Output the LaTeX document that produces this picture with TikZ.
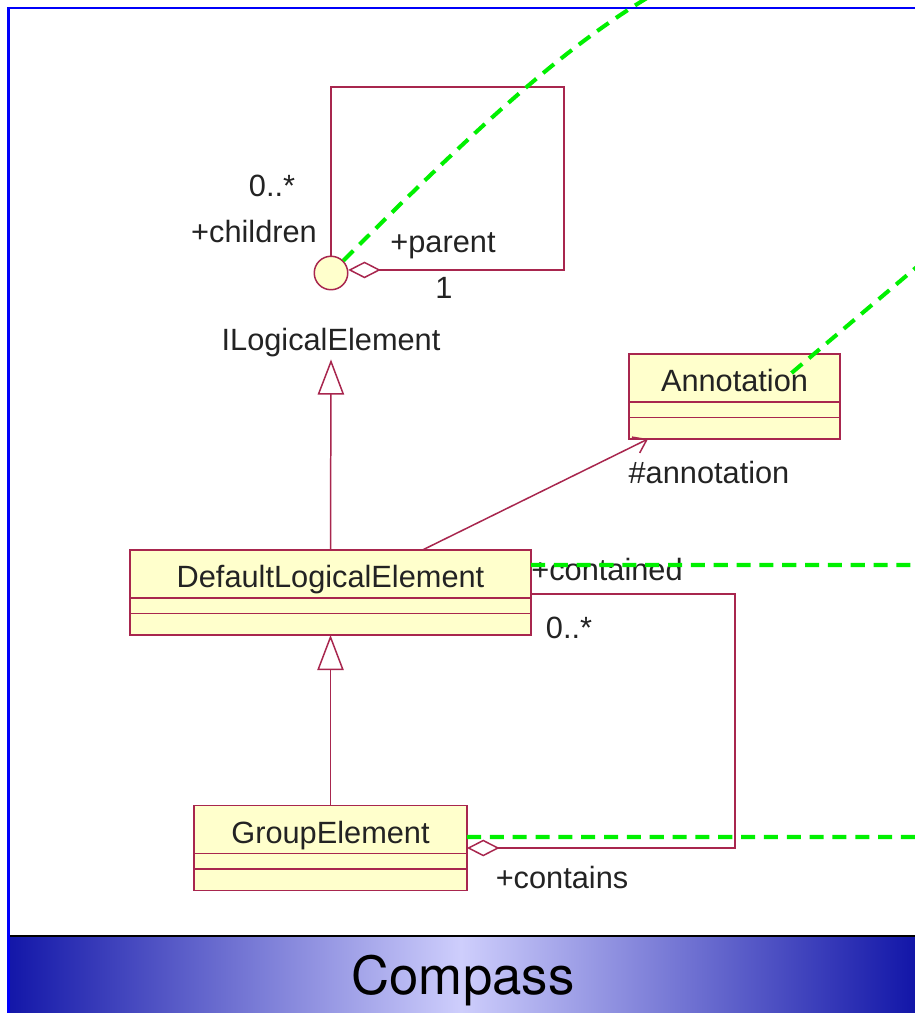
\documentclass[tikz,border=0pt]{standalone}
\usepackage{fontspec}
\usepackage{tikz}
\usetikzlibrary{arrows.meta,positioning}
\newfontfamily\umlfont{Liberation Sans}
\newfontfamily\titlefont{TeX Gyre Heros}
\definecolor{umlR}{RGB}{168,38,78}
\definecolor{umlY}{RGB}{255,255,204}
\definecolor{umlT}{RGB}{35,35,35}
\definecolor{hiG}{RGB}{0,240,0}
\definecolor{frameB}{RGB}{0,0,250}
\definecolor{barD}{RGB}{18,22,168}
\definecolor{barL}{RGB}{206,206,252}

\begin{document}
\begin{tikzpicture}[x=0.02cm,y=-0.02cm,
  cls/.style={draw=umlR,fill=umlY,line width=0.85pt,inner sep=0pt,outer sep=0pt,
    minimum width=#1,minimum height=0.96cm,text height=15.5pt,text depth=0pt,
    text=umlT,font=\umlfont\fontsize{17.5}{20}\selectfont},
  attr/.style={cls=#1,minimum height=0.31cm,text height=0pt},
  ops/.style={cls=#1,minimum height=0.43cm,text height=0pt},
  iface/.style={circle,draw=umlR,fill=umlY,line width=0.85pt,minimum size=0.67cm,inner sep=0pt},
  lbl/.style={text=umlT,inner sep=1pt,font=\umlfont\fontsize{17.5}{20}\selectfont},
  assoc/.style={draw=umlR,line width=0.85pt},
  gen/.style={assoc,-{Triangle[fill=white,length=20pt,width=15pt]}},
  nav/.style={assoc,-{Straight Barb[length=7pt,width=10pt]}},
  aggr/.style={assoc,{Diamond[fill=white,length=18.5pt,width=9.5pt]}-},
  hilite/.style={draw=hiG,line width=2.3pt,dash pattern=on 8pt off 5pt}]
\path[use as bounding box,fill=white] (0,0) rectangle (915,1013);
\clip (0,0) rectangle (915,1013);

% classes
\node[cls=4.22cm] (ann) at (734.5,378) {Annotation};
\node[attr=4.22cm,below=0pt of ann] (annA) {};
\node[ops=4.22cm,below=0pt of annA] (annO) {};
\node[cls=8.02cm] (dle) at (330.5,574) {DefaultLogicalElement};
\node[attr=8.02cm,below=0pt of dle] (dleA) {};
\node[ops=8.02cm,below=0pt of dleA] (dleO) {};
\node[cls=5.46cm] (ge) at (330.5,829.5) {GroupElement};
\node[attr=5.46cm,below=0pt of ge] (geA) {};
\node[ops=5.46cm,below=0pt of geA] (geO) {};

% interface
\node[iface] (ile) at (331,273) {};
\node[lbl] (ileN) at (331,343) {ILogicalElement};

% relations
\draw[gen] (dle.north) -- (ileN.south);
\draw[gen] (ge.north) -- (dleO.south);
\draw[nav] ([xshift=1.84cm]dle.north) -- ([xshift=0.38cm]annO.south west);
\draw[aggr] (ile.10) -| ++(216,-183) -| (ile.north);
\draw[aggr] ([yshift=-0.37cm]ge.east) -- ++(268,0) |- ([yshift=-0.4cm]dle.east);

% role names and multiplicities
\node[lbl] (multC) at (272,186) {0..*};
\node[lbl] (roleC) at (254,232) {+children};
\node[lbl] (roleP) at (443,246) {+parent};
\node[lbl] (multP) at (444,288) {1};
\node[lbl] (roleA) at (709,473) {\#annotation};
\node[lbl] (roleCd) at (607,570) {+contained};
\node[lbl] (multCd) at (569,628) {0..*};
\node[lbl] (roleCs) at (562,877) {+contains};

% title bar and frame
\shade[left color=barD,right color=barD,middle color=barL] (7,936) rectangle (915,1013);
\draw[line width=1.3pt] (7,936) -- (915,936);
\draw[frameB,line width=1.7pt] (915,8) -| (8.5,1013);
\node[font=\titlefont\fontsize{30}{36}\selectfont] (title) at (463,981) {Compass};

% highlight lines
\coordinate (offT) at (652,-5);
\coordinate (offR1) at (925,260);
\coordinate (offR2) at (925,565);
\coordinate (offR3) at (925,837);
\draw[hilite] (ile.45) .. controls (493,111) and (570,44) .. (offT);
\draw[hilite] ([shift={(57,-5)}]ann.center) -- (offR1);
\draw[hilite] ([yshift=0.18cm]dle.east) -- (offR2);
\draw[hilite] ([yshift=-0.15cm]ge.east) -- (offR3);
\end{tikzpicture}
\end{document}
